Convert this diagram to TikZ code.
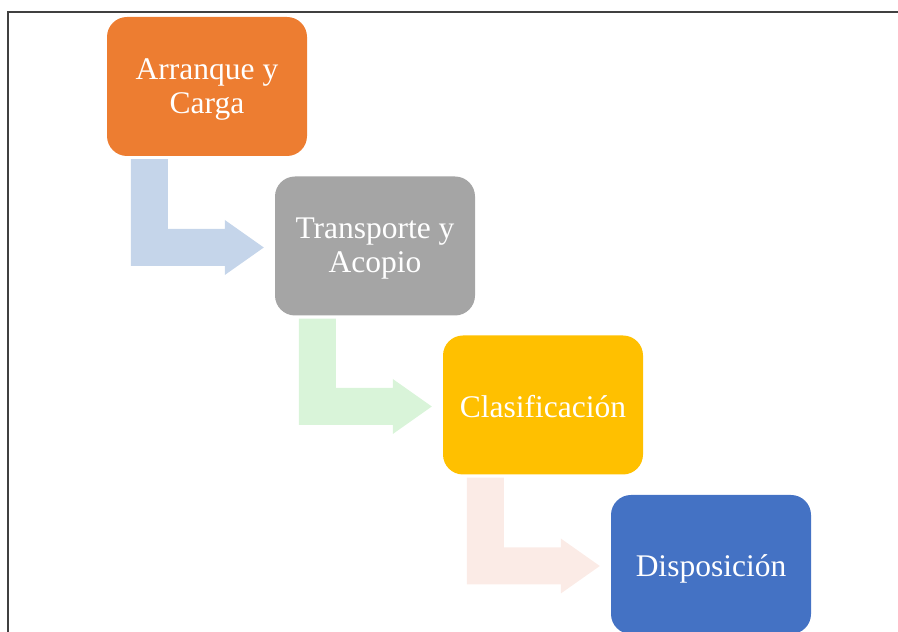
\documentclass[tikz,border=0pt]{standalone}
\usepackage{fontspec}
\setmainfont{Liberation Serif}
\usetikzlibrary{calc}
\definecolor{cOrange}{HTML}{ED7D31}
\definecolor{cGray}{HTML}{A5A5A5}
\definecolor{cGold}{HTML}{FFC000}
\definecolor{cBlue}{HTML}{4472C4}
\definecolor{aBlue}{HTML}{C5D5EA}
\definecolor{aGreen}{HTML}{D9F4D9}
\definecolor{aPink}{HTML}{FBEBE6}
\definecolor{frameC}{HTML}{404040}
\tikzset{
  stepbox/.style={rounded corners=20pt, minimum width=200pt, minimum height=139pt,
    inner sep=0pt},
  steptext/.style={inner sep=0pt, align=center, text=white,
    font=\fontsize{31.5}{34}\selectfont},
}
\newcommand{\bentarrow}[3]{%
  \fill[#1] let \p1=(#2.south west), \p2=(#3.west) in
    (\x1+24,\y1-3) -- (\x1+61,\y1-3) -- (\x1+61,\y2+17) -- (\x2-50,\y2+17)
    -- (\x2-50,\y2+26) -- (\x2-11,\y2-1.5) -- (\x2-50,\y2-29) -- (\x2-50,\y2-20)
    -- (\x1+24,\y2-20) -- cycle;}
\begin{document}
\begin{tikzpicture}[x=1pt,y=1pt]
\useasboundingbox (0,0) rectangle (898,632);
\draw[line width=1.3pt, frameC] (8,-2) -- (8,620) -- (900,620);
\node[stepbox, fill=cOrange] (a) at (207,545.5) {};
\node[stepbox, fill=cGray] (b) at (375,386) {};
\node[stepbox, fill=cGold] (c) at (543,227) {};
\node[stepbox, fill=cBlue] (d) at (711,67.5) {};
\node[steptext] (ta) at ([yshift=-3pt]a.center) {Arranque y\\Carga};
\node[steptext] (tb) at ([yshift=-3pt]b.center) {Transporte y\\Acopio};
\node[steptext] (tc) at ([yshift=-2pt]c.center) {Clasificación};
\node[steptext] (td) at ([yshift=-4pt]d.center) {Disposición};
\bentarrow{aBlue}{a}{b}
\bentarrow{aGreen}{b}{c}
\bentarrow{aPink}{c}{d}
\end{tikzpicture}
\end{document}
